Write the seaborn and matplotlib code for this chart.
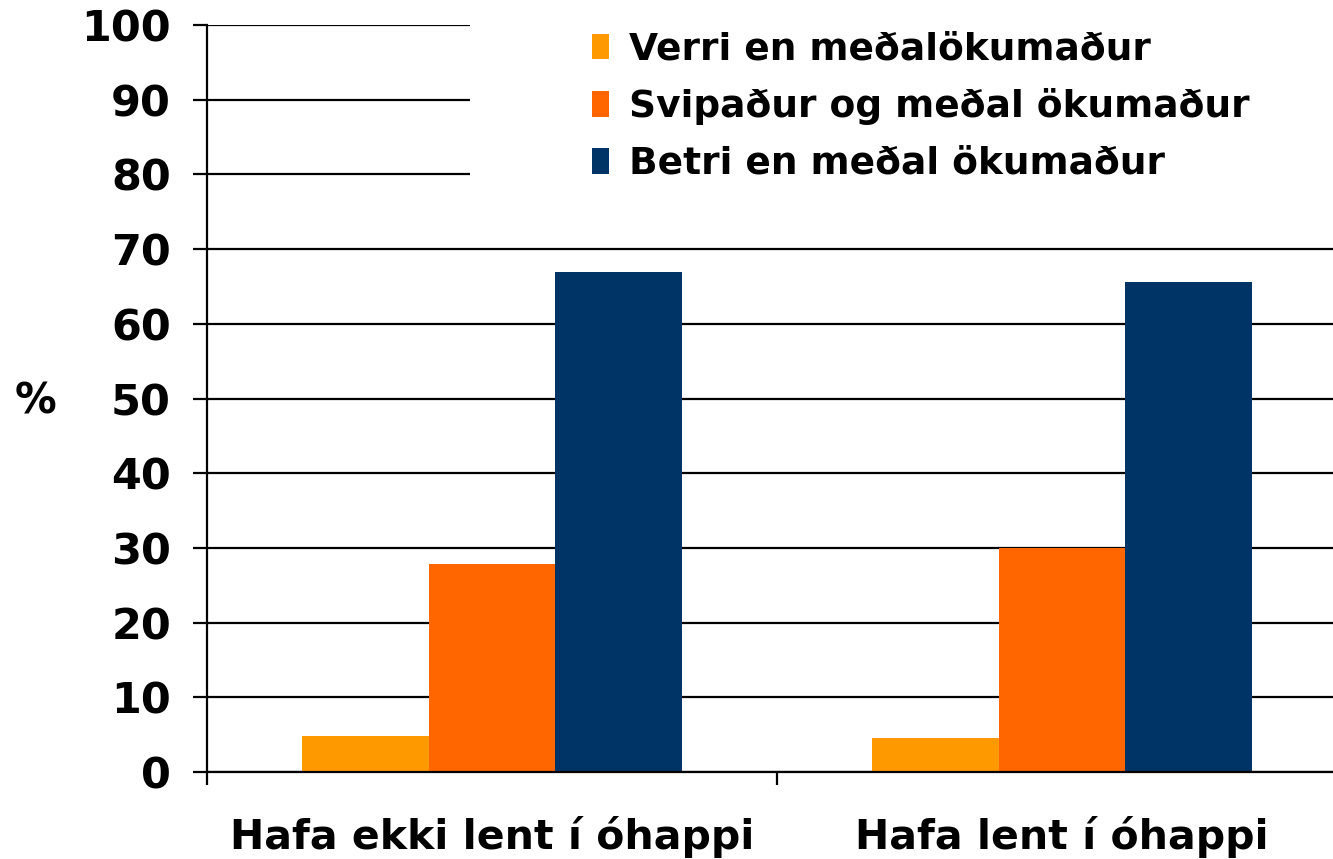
import pandas as pd
import matplotlib.pyplot as plt
import seaborn as sns
from matplotlib.patches import Rectangle
from matplotlib.ticker import FixedLocator

categories = ["Hafa ekki lent í óhappi", "Hafa lent í óhappi"]
series = ["Verri en meðalökumaður", "Svipaður og meðal ökumaður", "Betri en meðal ökumaður"]
worse = [4.8, 4.6]
similar = [27.8, 30.0]
better = [66.9, 65.6]
y_ticks = list(range(0, 101, 10))

COLORS = ["#FF9900", "#FF6600", "#003366"]

rows = []
for name, vals in zip(series, [worse, similar, better]):
    for cat, v in zip(categories, vals):
        rows.append({"flokkur": cat, "hópur": name, "gildi": v})
df = pd.DataFrame(rows)

sns.set_style("white")
plt.rcParams["font.family"] = ["DejaVu Sans"]
plt.rcParams["font.weight"] = "bold"
plt.rcParams["text.color"] = "black"
plt.rcParams["axes.labelcolor"] = "black"
plt.rcParams["xtick.color"] = "black"
plt.rcParams["ytick.color"] = "black"

W, H = 1333, 859
fig = plt.figure(figsize=(W / 100, H / 100), dpi=100)
ax = fig.add_axes([207 / W, 1 - 772 / H, 1140 / W, 747 / H])

sns.barplot(
    data=df, x="flokkur", y="gildi", hue="hópur",
    palette=COLORS, width=0.667, saturation=1, ax=ax, zorder=2,
    linewidth=0, edgecolor="none",
)

ax.set_xlim(-0.5, 1.5)
ax.set_ylim(0, 100)
ax.set_yticks(y_ticks)
ax.yaxis.grid(True, color="black", linewidth=1.6, zorder=0)
ax.set_axisbelow(True)

for side in ["top", "right"]:
    ax.spines[side].set_visible(False)
for side in ["left", "bottom"]:
    ax.spines[side].set_color("black")
    ax.spines[side].set_linewidth(1.6)

ax.tick_params(axis="y", which="major", direction="out", length=10, width=1.6,
               labelsize=31, pad=16, left=True)
ax.tick_params(axis="x", which="major", length=0, labelsize=29.5, pad=32)
ax.xaxis.set_minor_locator(FixedLocator([-0.5, 0.5, 1.5]))
ax.tick_params(axis="x", which="minor", direction="out", length=9, width=1.6,
               bottom=True)
for lbl in ax.get_xticklabels() + ax.get_yticklabels():
    lbl.set_fontweight("bold")

ax.set_xlabel("")
ax.set_ylabel("%", rotation=0, fontsize=30, fontweight="bold", va="center", ha="center")
ax.yaxis.set_label_coords((36 - 207) / 1140, (772 - 402) / 747)

# white block behind the legend hides the top gridlines
ax.add_patch(Rectangle((470 / W, 1 - 210 / H), 1.0, 210 / H, transform=fig.transFigure,
                       facecolor="white", edgecolor="none", zorder=3, clip_on=False))

handles, labels = ax.get_legend_handles_labels()
leg = ax.legend(
    handles, labels, loc="upper left", bbox_to_anchor=(573 / W, 1 - 13 / H),
    bbox_transform=fig.transFigure, frameon=False, borderpad=0,
    fontsize=27, handlelength=0.45, handleheight=0.67, handletextpad=0.55,
    labelspacing=0.55,
)
for t in leg.get_texts():
    t.set_fontweight("bold")
leg.set_zorder(5)

fig.savefig("out.png", dpi=100)
